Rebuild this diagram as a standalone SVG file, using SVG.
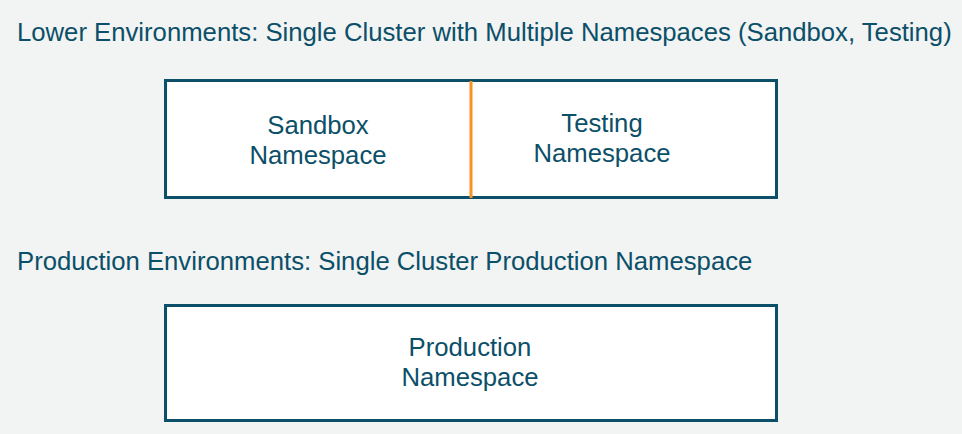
<svg xmlns="http://www.w3.org/2000/svg" width="962" height="434" viewBox="0 0 962 434">
<style>
.t{font-family:"Liberation Sans",Arial,sans-serif;font-size:25.7px;fill:#0b4f68}
.c{text-anchor:middle}
.box{fill:#ffffff;stroke:#0b4f68;stroke-width:3}
</style>
<rect width="962" height="434" fill="#f2f3f3"/>
<text class="t" x="17" y="41">Lower Environments: Single Cluster with Multiple Namespaces (Sandbox, Testing)</text>
<text class="t" x="17" y="270">Production Environments: Single Cluster Production Namespace</text>
<g id="lower-cluster">
<rect class="box" x="165.5" y="80.5" width="611" height="117"/>
</g>
<g id="sandbox">
<text class="t c" x="318" y="134">Sandbox</text>
<text class="t c" x="318" y="164">Namespace</text>
</g>
<g id="testing">
<text class="t c" x="602" y="132">Testing</text>
<text class="t c" x="602" y="162">Namespace</text>
</g>
<g id="connectors">
<line x1="471" y1="81" x2="471" y2="198" stroke="#f7931e" stroke-width="3"/>
</g>
<g id="production">
<rect class="box" x="165.5" y="305.5" width="611" height="115"/>
<text class="t c" x="470" y="356">Production</text>
<text class="t c" x="470" y="386">Namespace</text>
</g>
</svg>
